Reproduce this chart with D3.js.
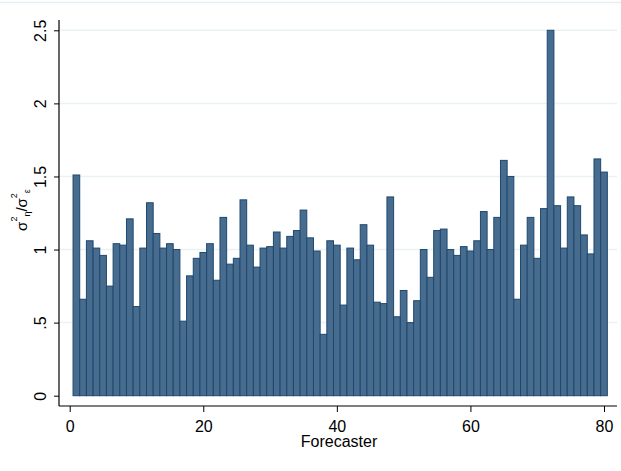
<!DOCTYPE html>
<html>
<head>
<meta charset="utf-8">
<script src="https://cdn.jsdelivr.net/npm/d3@7"></script>
<style>
  body { margin: 0; background: #fff; }
  text { font-family: "Liberation Sans", Arial, sans-serif; fill: #000; }
</style>
</head>
<body>
<div id="chart-area"></div>
<script>
// forecaster ids 1..80 and variance ratio per forecaster
const forecasters = d3.range(1, 81)
const ratios = [
  1.51, 0.66, 1.06, 1.01, 0.96, 0.75, 1.04, 1.03, 1.21, 0.61,
  1.01, 1.32, 1.11, 1.01, 1.04, 1.00, 0.51, 0.82, 0.94, 0.98,
  1.04, 0.79, 1.22, 0.90, 0.94, 1.34, 1.03, 0.88, 1.01, 1.02,
  1.12, 1.01, 1.09, 1.13, 1.27, 1.08, 0.99, 0.42, 1.06, 1.03,
  0.62, 1.01, 0.93, 1.17, 1.03, 0.64, 0.63, 1.36, 0.54, 0.72,
  0.50, 0.65, 1.00, 0.81, 1.13, 1.14, 1.00, 0.96, 1.02, 0.99,
  1.06, 1.26, 1.00, 1.22, 1.61, 1.50, 0.66, 1.03, 1.22, 0.94,
  1.28, 2.50, 1.30, 1.01, 1.36, 1.30, 1.10, 0.97, 1.62, 1.53
]
const xTicks = [0, 20, 40, 60, 80]
const yTicks = [0, 0.5, 1, 1.5, 2, 2.5]
const yTickLabels = ["0", ".5", "1", "1.5", "2", "2.5"]

const W = 621, H = 471
const AXIS = {LEFT: 59, BOTTOM: 406, TOP: 20, RIGHT: 617}

const svg = d3.select("#chart-area").append("svg")
    .attr("width", W)
    .attr("height", H)

// faint outer border line at top
svg.append("line")
    .attr("x1", 0).attr("x2", W)
    .attr("y1", 2.5).attr("y2", 2.5)
    .attr("stroke", "#e6eef1")
    .attr("stroke-width", 1.5)

const x = d3.scaleLinear().domain([0, 80]).range([69.7, 604])
const y = d3.scaleLinear().domain([0, 2.5]).range([395.7, 30.3])

// gridlines
svg.append("g")
    .selectAll("line")
    .data(yTicks.slice(1))
    .enter()
    .append("line")
    .attr("x1", AXIS.LEFT).attr("x2", AXIS.RIGHT)
    .attr("y1", d => y(d)).attr("y2", d => y(d))
    .attr("stroke", "#eaf2f3")
    .attr("stroke-width", 1.5)

// bars
svg.append("g")
    .selectAll("rect")
    .data(forecasters)
    .enter()
    .append("rect")
    .attr("x", d => x(d - 0.5))
    .attr("width", d => x(d + 0.5) - x(d - 0.5))
    .attr("y", (d, i) => y(ratios[i]))
    .attr("height", (d, i) => y(0) - y(ratios[i]))
    .attr("fill", "#486c8e")
    .attr("stroke", "#1d4870")
    .attr("stroke-width", 1)

// y axis
const yAxisCall = d3.axisLeft(y)
    .tickValues(yTicks)
    .tickSize(5)
    .tickFormat((d, i) => yTickLabels[i])
const yAxis = svg.append("g")
    .attr("transform", `translate(${AXIS.LEFT}, 0)`)
    .call(yAxisCall)
yAxis.select(".domain").remove()
yAxis.selectAll("line").attr("stroke", "#000")
yAxis.selectAll("text")
    .attr("x", 0).attr("y", 0).attr("dy", 0)
    .attr("text-anchor", "middle")
    .attr("transform", "translate(-13, 0) rotate(-90)")
    .style("font-size", "16px")
    .style("font-family", "'Liberation Sans', Arial, sans-serif")

// x axis
const xAxisCall = d3.axisBottom(x)
    .tickValues(xTicks)
    .tickSize(6)
    .tickFormat(d => d)
const xAxis = svg.append("g")
    .attr("transform", `translate(0, ${AXIS.BOTTOM})`)
    .call(xAxisCall)
xAxis.select(".domain").remove()
xAxis.selectAll("line").attr("stroke", "#000")
xAxis.selectAll("text")
    .attr("y", 25.5).attr("dy", 0)
    .style("font-size", "16px")
    .style("font-family", "'Liberation Sans', Arial, sans-serif")

// axis lines
svg.append("line")
    .attr("x1", AXIS.LEFT).attr("x2", AXIS.LEFT)
    .attr("y1", AXIS.TOP).attr("y2", AXIS.BOTTOM)
    .attr("stroke", "#000").attr("stroke-width", 1.2)
svg.append("line")
    .attr("x1", AXIS.LEFT).attr("x2", AXIS.RIGHT)
    .attr("y1", AXIS.BOTTOM).attr("y2", AXIS.BOTTOM)
    .attr("stroke", "#000").attr("stroke-width", 1.2)

// x axis title
svg.append("text")
    .attr("x", 339)
    .attr("y", 447)
    .attr("text-anchor", "middle")
    .attr("font-size", "16px")
    .text("Forecaster")

// y axis title: sigma^2_eta / sigma^2_epsilon
const yt = svg.append("text")
    .attr("transform", "translate(27, 210) rotate(-90)")
    .attr("text-anchor", "middle")
    .attr("font-size", "15px")
yt.append("tspan").text("σ")
yt.append("tspan").attr("font-size", "9px").attr("dy", -10).text("2")
yt.append("tspan").attr("font-size", "9px").attr("dy", 13).text("η")
yt.append("tspan").attr("dy", -3).text("/σ")
yt.append("tspan").attr("font-size", "9px").attr("dy", -10).text("2")
yt.append("tspan").attr("font-size", "9px").attr("dy", 13).text("ε")
</script>
</body>
</html>
